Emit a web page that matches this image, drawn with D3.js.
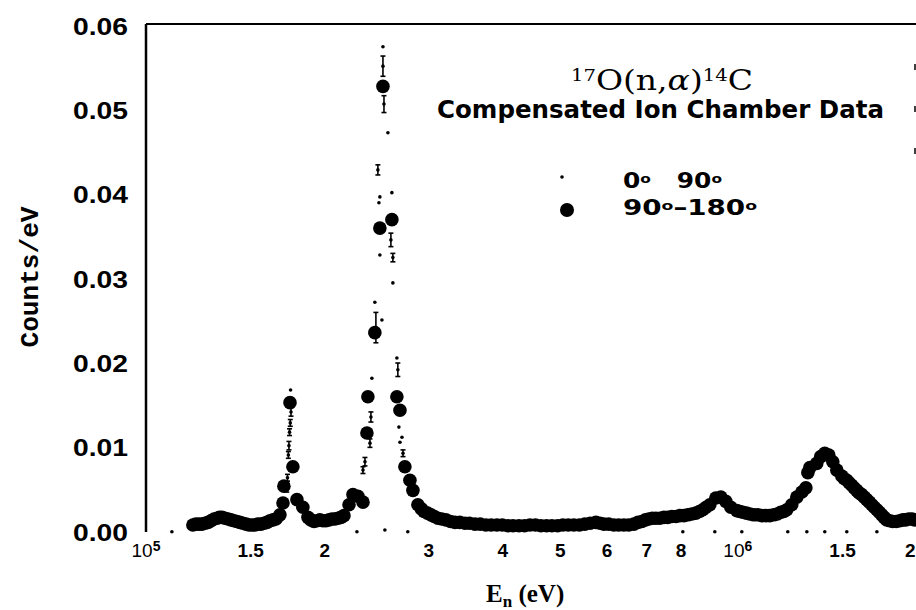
<!DOCTYPE html>
<html><head><meta charset="utf-8">
<script src="https://cdn.jsdelivr.net/npm/d3@7"></script>
<style>body{margin:0;background:#fff}svg{display:block}</style>
</head><body>
<svg id="c" width="916" height="610"></svg>
<script>
// X axis ticks (neutron energy, keV) and their labels ("a|b" = a with superscript b)
const xTicks = [100,150,200,300,400,500,600,700,800,1000,1500,2000];
const xTickLabels = ["10|5","1.5","2","3","4","5","6","7","8","10|6","1.5","2"];
const yTicks = [0,0.01,0.02,0.03,0.04,0.05,0.06];

// 90°–180° series (large filled circles): energy in keV, counts/eV
const bigEnergy = [120.0,122.9,125.8,128.8,131.8,134.4,137.6,140.8,144.1,147.6,151.1,154.6,158.3,162.0,165.8,168.4,170.4,171.0,175.1,177.1,179.9,184.1,187.8,192.2,196.7,201.4,206.2,211.0,216.0,220.3,223.7,228.1,232.6,236.2,237.1,243.6,248.4,251.4,260.3,265.4,268.6,273.8,279.2,282.5,288.0,294.9,303.1,311.3,321.2,332.7,345.9,359.6,375.2,391.6,408.8,426.7,445.3,464.8,485.1,506.2,528.4,551.4,575.6,593.8,617.4,641.8,667.3,688.4,707.4,726.9,749.9,773.5,798.0,823.2,849.2,872.6,896.8,917.9,936.0,954.3,973.1,996.1,1019.5,1047.7,1080.8,1115,1150,1181.7,1209.7,1233.4,1257.9,1282.9,1303,1313.2,1323.5,1359.3,1380.7,1402.5,1424.6,1446.9,1469.7,1498.6,1527.9,1557.5,1588.2,1619.3,1651.4,1684.5,1717.7,1750.5,1784.9,1827.1,1878.0,1922,1967.4,
  316,327,339,352,367,383,400,417,436,455,475,496,517,540,563,585,605,629,654,678,698,717,738,761,786,811,836,861,884,1008,1034,1064,1098,1132,1166,1196,1512,1542,1572,1603,1635,1668,1700,1734,1767,1805,1852,1900,1944,1990,
  121.4,124.3,127.3,130.3,133.1,136.0,139.2,142.4,145.8,149.3,152.8,156.4,160.1,163.9,189.9,194.4,199.0,203.8,208.6,213.5,292,299,307];
const bigCounts = [0.0006,0.0007,0.0008,0.0011,0.0014,0.0015,0.0013,0.0011,0.0009,0.0007,0.0006,0.0007,0.0008,0.0011,0.0013,0.0018,0.0032,0.0052,0.0151,0.0075,0.0036,0.0027,0.0015,0.0010,0.0012,0.0011,0.0013,0.0014,0.0017,0.0030,0.0042,0.0040,0.0033,0.0115,0.0158,0.0234,0.0358,0.0526,0.0368,0.0158,0.0142,0.0075,0.0059,0.0047,0.0030,0.0022,0.0018,0.0014,0.0012,0.0009,0.0008,0.0007,0.0006,0.0006,0.0005,0.0005,0.0006,0.0005,0.0005,0.0006,0.0006,0.0007,0.0009,0.0007,0.0006,0.0006,0.0007,0.0010,0.0013,0.0014,0.0015,0.0016,0.0017,0.0018,0.0020,0.0024,0.0030,0.0038,0.0039,0.0034,0.0027,0.0023,0.0021,0.0019,0.0018,0.0017,0.0018,0.0021,0.0024,0.0030,0.0039,0.0045,0.0050,0.0068,0.0074,0.0079,0.0087,0.0091,0.0089,0.0081,0.0071,0.0064,0.0059,0.0053,0.0047,0.0042,0.0036,0.0030,0.0024,0.0018,0.0012,0.0010,0.0011,0.0012,0.0013,
  0.0013,0.0010,0.0009,0.0008,0.0007,0.0006,0.0006,0.0005,0.0005,0.0006,0.0005,0.0005,0.0006,0.0006,0.0008,0.0008,0.0007,0.0006,0.0006,0.0009,0.0012,0.0014,0.0014,0.0015,0.0016,0.0017,0.0019,0.0022,0.0027,0.0022,0.0020,0.0018,0.0017,0.0017,0.0019,0.0022,0.0061,0.0056,0.0050,0.0044,0.0039,0.0033,0.0027,0.0021,0.0015,0.0011,0.0010,0.0012,0.0013,0.0012,
  0.0007,0.0007,0.0009,0.0013,0.0015,0.0014,0.0012,0.0010,0.0008,0.0006,0.0006,0.0007,0.0009,0.0012,0.0012,0.0011,0.0011,0.0012,0.0013,0.0015,0.0025,0.0020,0.0016];

// 0°–90° series (small dots with error bars)
const smallEnergy = [110.6,130.0,150.0,172.9,173.4,174.0,174.4,174.8,175.3,175.8,175.5,200.0,227.2,232.6,234.4,239.0,239.9,240.8,243.6,244.6,250.4,246.5,247.5,248.4,248.4,251.4,251.4,252.4,253.3,256.3,259.3,260.3,261.3,261.3,265.4,266.4,267.5,268.6,270.7,271.8,276.9,300.0,400.0,500.0,700.0,807.3,914.3,930.0,1015.6,1100,1214.4,1308.1,1400,1402.5,1527.9,1600,1717.7,1900];
const smallCounts = [-0.0002,0.0010,0.0008,0.0048,0.0062,0.0089,0.0100,0.0116,0.0127,0.0140,0.0166,0.0012,-0.0002,0.0071,0.0081,0.0103,0.0134,0.0180,0.0270,0.0240,0.0249,0.0427,0.0388,0.0395,0.0326,0.0573,0.0550,0.0505,0.0000,0.0471,0.0344,0.0400,0.0323,0.0293,0.0204,0.0190,0.0122,0.0104,0.0110,0.0091,-0.0002,0.0016,0.0006,0.0005,0.0012,-0.0002,-0.0002,0.0036,-0.0002,0.0017,-0.0002,-0.0002,0.0087,-0.0002,-0.0002,0.0045,-0.0002,0.0011];
const smallErr = [0,0.0003,0.0003,0.0003,0.0004,0.0004,0.0005,0.0004,0.0004,0.0005,0,0.0003,0,0.0004,0.0005,0.0005,0.0006,0,0,0.0018,0,0.0006,0,0,0,0,0.0012,0.0010,0,0,0.0008,0,0.0005,0,0,0.0008,0,0,0,0.0004,0,0.0003,0.0002,0.0002,0.0003,0,0,0.0003,0,0.0003,0,0,0.0004,0,0,0.0004,0,0.0003];

const svg = d3.select("#c");
const x = d3.scaleLog().domain([100, 2000]).range([146, 916]);
const y = d3.scaleLinear().domain([0, 0.06]).range([530, 24]);

// frame: top line and faint right edge
svg.append("line").attr("x1",146).attr("x2",916).attr("y1",24).attr("y2",24)
  .attr("stroke","#000").attr("stroke-width",2.2);
svg.append("line").attr("x1",915).attr("x2",915).attr("y1",64).attr("y2",160)
  .attr("stroke","#000").attr("stroke-width",1.5).attr("stroke-dasharray","6,36");

// Y axis
const yAxis = svg.append("g").attr("transform","translate(146,0)")
  .call(d3.axisLeft(y).tickValues(yTicks).tickSize(0).tickFormat(d3.format(".2f")));
yAxis.select(".domain").attr("stroke","#000").attr("stroke-width",2.5).attr("d","M0,24V532");
yAxis.selectAll(".tick text")
  .attr("x",-18).attr("dy",null).attr("y",10)
  .attr("font-family","Liberation Sans, Arial, sans-serif").attr("font-weight","bold")
  .attr("font-size",23).attr("fill","#000")
  .attr("textLength",55).attr("lengthAdjust","spacingAndGlyphs");

// X axis
const xAxis = svg.append("g").attr("transform","translate(0,530)")
  .call(d3.axisBottom(x).tickValues(xTicks).tickSize(0).tickFormat(() => ""));
xAxis.select(".domain").remove();
xAxis.selectAll(".tick").each(function(d, i) {
  const t = d3.select(this).select("text");
  t.attr("y",27).attr("dy",null).attr("fill","#000")
   .attr("font-family","Liberation Sans, Arial, sans-serif").attr("font-weight","bold").attr("font-size",19);
  const lab = xTickLabels[i];
  if (lab.includes("|")) {
    const [b, e] = lab.split("|");
    t.attr("text-anchor","start").attr("x",-15).attr("font-weight","normal");
    t.append("tspan").text(b);
    t.append("tspan").attr("dy",-6).attr("font-size",14).attr("font-weight","bold").text(e);
  } else {
    t.text(lab);
    if (i === xTickLabels.length - 1) t.attr("text-anchor","end").attr("x",-1);
  }
});

// 0°–90° error bars and small dots
const sm = smallEnergy.map((e,i)=>({e, v:smallCounts[i], err:smallErr[i]}));
const eb = svg.append("g").attr("stroke","#000").attr("stroke-width",1.6);
sm.filter(d=>d.err>0).forEach(d=>{
  const cx = x(d.e), y1 = y(d.v-d.err), y2 = y(d.v+d.err);
  eb.append("line").attr("x1",cx).attr("x2",cx).attr("y1",y1).attr("y2",y2);
  eb.append("line").attr("x1",cx-2.5).attr("x2",cx+2.5).attr("y1",y1).attr("y2",y1);
  eb.append("line").attr("x1",cx-2.5).attr("x2",cx+2.5).attr("y1",y2).attr("y2",y2);
});
svg.append("g").selectAll("circle").data(sm).join("circle")
  .attr("cx",d=>x(d.e)).attr("cy",d=>y(d.v)).attr("r",1.8).attr("fill","#000");

// 90°–180° large circles
svg.append("g").selectAll("circle").data(bigEnergy.map((e,i)=>({e,v:bigCounts[i]}))).join("circle")
  .attr("cx",d=>x(d.e)).attr("cy",d=>y(d.v)).attr("r",6.8).attr("fill","#000");

// Title
const t1 = svg.append("text").attr("x",571).attr("y",90)
  .attr("font-family","DejaVu Serif, serif").attr("font-size",27).attr("fill","#000")
  .attr("textLength",182).attr("lengthAdjust","spacingAndGlyphs");
t1.append("tspan").attr("font-size",16).attr("dy",-9).text("17");
t1.append("tspan").attr("dy",9).text("O(n,");
t1.append("tspan").attr("font-style","italic").text("α");
t1.append("tspan").text(")");
t1.append("tspan").attr("font-size",16).attr("dy",-9).text("14");
t1.append("tspan").attr("dy",9).text("C");

svg.append("text").attr("x",437).attr("y",118)
  .attr("font-family","DejaVu Sans, sans-serif").attr("font-weight","bold").attr("font-size",25)
  .attr("fill","#000").attr("textLength",447).attr("lengthAdjust","spacingAndGlyphs")
  .text("Compensated Ion Chamber Data");

// Legend
svg.append("circle").attr("cx",562).attr("cy",177).attr("r",1.8).attr("fill","#000");
svg.append("circle").attr("cx",567).attr("cy",210).attr("r",7).attr("fill","#000");
const l1 = svg.append("text").attr("x",623).attr("y",188)
  .attr("font-family","DejaVu Sans, sans-serif").attr("font-weight","bold").attr("font-size",21)
  .attr("fill","#000").attr("textLength",99).attr("lengthAdjust","spacingAndGlyphs");
l1.append("tspan").text("0");
l1.append("tspan").attr("font-size",13).attr("dy",-5).text("o");
l1.append("tspan").attr("dy",5).text("\u00a0\u00a0 90");
l1.append("tspan").attr("font-size",13).attr("dy",-5).text("o");
const l2 = svg.append("text").attr("x",623).attr("y",215)
  .attr("font-family","DejaVu Sans, sans-serif").attr("font-weight","bold").attr("font-size",21)
  .attr("fill","#000").attr("textLength",134).attr("lengthAdjust","spacingAndGlyphs");
l2.append("tspan").text("90");
l2.append("tspan").attr("font-size",13).attr("dy",-5).text("o");
l2.append("tspan").attr("dy",5).text("\u2013180");
l2.append("tspan").attr("font-size",13).attr("dy",-5).text("o");

// Axis titles
svg.append("text").attr("transform","translate(38,277) rotate(-90)").attr("text-anchor","middle")
  .attr("font-family","Liberation Mono, monospace").attr("font-weight","bold").attr("font-size",25)
  .attr("fill","#000").attr("textLength",141).attr("lengthAdjust","spacingAndGlyphs")
  .text("Counts/eV");
const xt = svg.append("text").attr("x",486).attr("y",602)
  .attr("font-family","Liberation Serif, serif").attr("font-weight","bold").attr("font-size",25)
  .attr("fill","#000");
xt.append("tspan").text("E");
xt.append("tspan").attr("font-size",17).attr("dy",5).text("n");
xt.append("tspan").attr("dy",-5).text(" (eV)");
</script>
</body></html>
